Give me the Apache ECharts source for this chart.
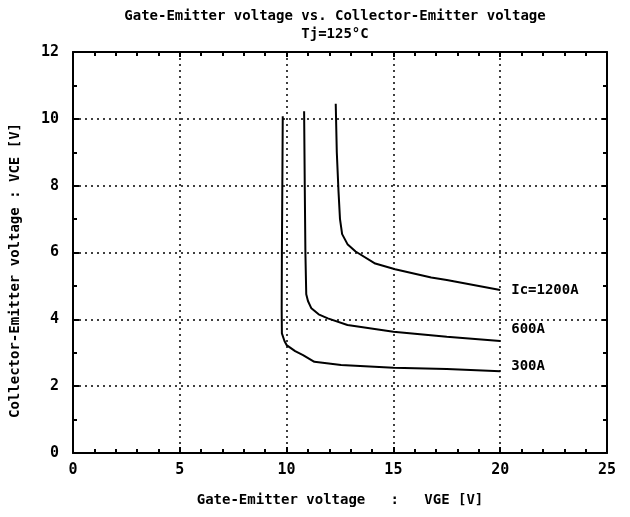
<!DOCTYPE html>
<html>
<head>
<meta charset="utf-8">
<script src="https://cdn.jsdelivr.net/npm/echarts@6/dist/echarts.min.js"></script>
<style>
body { margin: 0; background: #fff; }
#chart { width: 630px; height: 517px; }
</style>
</head>
<body>
<div id="chart"></div>
<script>
// VGE [V], VCE [V]
const ic300 = [[9.82, 10.08], [9.8, 8], [9.78, 6], [9.77, 4.3], [9.78, 3.58], [9.9, 3.35], [10.0, 3.23],
  [10.4, 3.05], [10.77, 2.93], [11.3, 2.73], [12.55, 2.63], [15, 2.55], [17.5, 2.51], [20, 2.45]]
const ic600 = [[10.82, 10.23], [10.85, 8], [10.88, 6], [10.92, 4.75], [11.0, 4.55], [11.16, 4.33],
  [11.5, 4.15], [11.93, 4.03], [12.85, 3.83], [15, 3.63], [17.5, 3.48], [20, 3.35]]
const ic1200 = [[12.3, 10.45], [12.35, 9], [12.43, 7.83], [12.5, 7.0], [12.6, 6.55], [12.85, 6.25],
  [13.23, 6.03], [14.15, 5.67], [15.08, 5.5], [16.77, 5.25], [17.5, 5.18], [20, 4.88]]
const curveNames = ['Ic=1200A', '600A', '300A']
const xTicks = [0, 5, 10, 15, 20, 25]
const yTicks = [0, 2, 4, 6, 8, 10, 12]

const chart = echarts.init(document.getElementById('chart'))
const mono = '"DejaVu Sans Mono", monospace'

const gridLine = { show: true, lineStyle: { color: '#000', type: [2, 4], width: 1.5 } }
const edge = { show: true, onZero: false, lineStyle: { color: '#000', width: 2 } }

function curve(name, data, offsetY) {
  return {
    name: name,
    type: 'line',
    data: data,
    showSymbol: false,
    symbol: 'none',
    lineStyle: { color: '#000', width: 2 },
    endLabel: {
      show: true,
      formatter: name,
      color: '#000',
      fontFamily: mono,
      fontWeight: 'bold',
      fontSize: 14,
      distance: 11,
      offset: [0, offsetY]
    },
    silent: true,
    animation: false
  }
}

const option = {
  animation: false,
  title: {
    text: 'Gate-Emitter voltage vs. Collector-Emitter voltage\nTj=125°C',
    left: 330,
    top: 2,
    textAlign: 'center',
    textStyle: { fontFamily: mono, fontWeight: 'bold', fontSize: 14, lineHeight: 18, color: '#000' }
  },
  grid: { left: 73, right: 23, top: 52, bottom: 64 },
  xAxis: [
    {
      type: 'value', min: 0, max: 25, interval: 5,
      axisLine: edge,
      axisTick: { show: true, inside: true, length: 6, lineStyle: { color: '#000', width: 2 } },
      minorTick: { show: true, splitNumber: 5, length: 4, lineStyle: { color: '#000', width: 2 } },
      splitLine: gridLine,
      axisLabel: {
        color: '#000', fontFamily: mono, fontWeight: 'bold', fontSize: 15, margin: 10,
        formatter: v => xTicks.includes(v) ? String(v) : ''
      },
      name: 'Gate-Emitter voltage   :   VGE [V]',
      nameLocation: 'middle',
      nameGap: 40,
      nameTextStyle: { color: '#000', fontFamily: mono, fontWeight: 'bold', fontSize: 14 }
    },
    {
      type: 'value', min: 0, max: 25, interval: 5, position: 'top',
      axisLine: edge,
      axisTick: { show: true, inside: true, length: 5, lineStyle: { color: '#000', width: 2 } },
      minorTick: { show: true, splitNumber: 5, length: 4, lineStyle: { color: '#000', width: 2 } },
      splitLine: { show: false },
      axisLabel: { show: false }
    }
  ],
  yAxis: [
    {
      type: 'value', min: 0, max: 12, interval: 2,
      axisLine: edge,
      axisTick: { show: true, inside: true, length: 6, lineStyle: { color: '#000', width: 2 } },
      minorTick: { show: true, splitNumber: 2, length: 4, lineStyle: { color: '#000', width: 2 } },
      splitLine: gridLine,
      axisLabel: {
        color: '#000', fontFamily: mono, fontWeight: 'bold', fontSize: 15, margin: 14,
        formatter: v => yTicks.includes(v) ? String(v) : ''
      },
      name: 'Collector-Emitter voltage : VCE [V]',
      nameLocation: 'middle',
      nameGap: 51,
      nameTextStyle: { color: '#000', fontFamily: mono, fontWeight: 'bold', fontSize: 14, padding: [0, 36, 0, 0] }
    },
    {
      type: 'value', min: 0, max: 12, interval: 2, position: 'right',
      axisLine: edge,
      axisTick: { show: true, inside: true, length: 5, lineStyle: { color: '#000', width: 2 } },
      minorTick: { show: true, splitNumber: 2, length: 4, lineStyle: { color: '#000', width: 2 } },
      splitLine: { show: false },
      axisLabel: { show: false }
    }
  ],
  series: [
    curve(curveNames[0], ic1200, 0),
    curve(curveNames[1], ic600, -12),
    curve(curveNames[2], ic300, -5)
  ]
}

chart.setOption(option)
</script>
</body>
</html>
